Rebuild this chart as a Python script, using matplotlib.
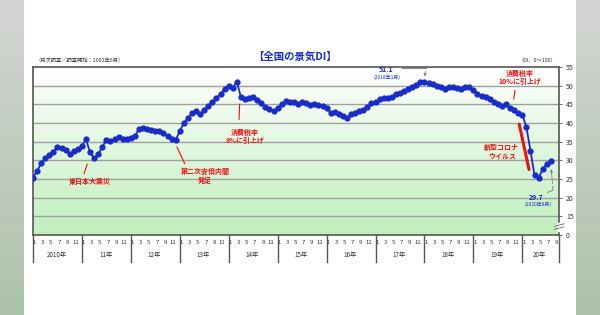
import numpy as np
import matplotlib
matplotlib.use("Agg")
import matplotlib.pyplot as plt
from matplotlib.colors import LinearSegmentedColormap

plt.rcParams['font.family'] = ['Noto Sans CJK JP', 'DejaVu Sans']

# monthly DI, 2010/1 - 2020/8
di_2010 = [25.4, 27.1, 29.2, 30.5, 31.3, 32.2, 33.7, 33.3, 32.8, 31.6, 32.5, 33.1]
di_2011 = [33.9, 35.6, 32.1, 30.5, 31.6, 33.6, 35.5, 35.3, 35.6, 36.3, 35.8, 35.8]
di_2012 = [36.0, 36.6, 38.3, 38.7, 38.4, 38.0, 37.9, 37.9, 37.3, 36.4, 35.6, 35.4]
di_2013 = [37.9, 40.0, 41.3, 42.6, 43.2, 42.3, 43.5, 44.6, 45.7, 46.8, 47.7, 49.2]
di_2014 = [49.9, 49.5, 51.0, 46.9, 46.4, 46.6, 47.0, 46.2, 45.3, 44.4, 43.8, 43.2]
di_2015 = [43.9, 45.0, 45.9, 45.7, 45.6, 45.1, 45.6, 45.3, 44.8, 45.0, 44.7, 44.6]
di_2016 = [43.9, 42.8, 42.9, 42.3, 41.9, 41.3, 42.3, 42.6, 43.1, 43.5, 44.2, 45.3]
di_2017 = [45.7, 46.3, 46.8, 46.8, 47.0, 47.7, 48.1, 48.6, 49.0, 49.7, 50.3, 51.0]
di_2018 = [51.1, 50.6, 50.4, 50.0, 49.6, 49.2, 49.6, 49.7, 49.4, 49.1, 49.6, 49.6]
di_2019 = [48.8, 47.9, 47.2, 46.9, 46.4, 45.7, 45.0, 44.6, 45.1, 44.0, 43.5, 42.6]
di_2020 = [42.2, 38.9, 32.6, 26.0, 25.2, 27.7, 29.0, 29.7]

di = di_2010 + di_2011 + di_2012 + di_2013 + di_2014 + di_2015 + di_2016 + di_2017 + di_2018 + di_2019 + di_2020
months = np.arange(len(di))

year_labels = ["2010年", "11年", "12年", "13年", "14年", "15年", "16年", "17年", "18年", "19年", "20年"]
month_ticks = [1, 3, 5, 7, 9, 11]
y_ticks = [15, 20, 25, 30, 35, 40, 45, 50, 55]

blue = "#1a2cc8"
red = "#f01010"

fig = plt.figure(figsize=(6, 3.15), dpi=100)
fig.patch.set_facecolor("white")

# gray side strips
strip = LinearSegmentedColormap.from_list("strip", ["#d3d5d3", "#aec3aa"])
for x0 in (0, 576 / 600):
    sa = fig.add_axes([x0, 0, 24 / 600, 1])
    sa.imshow(np.linspace(0, 1, 100).reshape(-1, 1), cmap=strip, aspect="auto")
    sa.axis("off")

ax = fig.add_axes([33 / 600, 80 / 315, 526 / 600, 168 / 315])
ax.set_xlim(0, 129)
ax.set_ylim(10, 55)

# green gradient background
bg = LinearSegmentedColormap.from_list("bg", ["#ffffff", "#c0efbc"])
ax.imshow(np.linspace(0, 1, 100).reshape(-1, 1), cmap=bg, aspect="auto",
          extent=[0, 129, 10, 55], zorder=0)
for v in y_ticks[:-1]:
    ax.axhline(v, color="#a0a0a0", lw=1.0, zorder=1)

ax.plot(months, di, color=blue, lw=1.3, marker="o", ms=3.5, zorder=3)

for s in ax.spines.values():
    s.set_color("#555555")
    s.set_linewidth(1.2)

ax.set_xticks([])
ax.yaxis.tick_right()
ax.set_yticks([10] + y_ticks)
ax.set_yticklabels(["0"] + [str(v) for v in y_ticks], fontsize=5, color="#333333")
ax.tick_params(axis="y", length=2, width=0.6, pad=3, colors="#555555")
ax.tick_params(axis="y", labelcolor="#333333")

# axis break mark
ax.plot([129, 129], [11.3, 13.0], color="white", lw=2.5, clip_on=False, zorder=5)
ax.plot([127.8, 130.2], [11.5, 12.2], color="#666666", lw=0.6, clip_on=False, zorder=6)
ax.plot([127.8, 130.2], [12.3, 13.0], color="#666666", lw=0.6, clip_on=False, zorder=6)

# month / year labels under the axis
trans = ax.get_xaxis_transform()
for k, yl in enumerate(year_labels):
    start = k * 12
    ax.plot([start, start], [0, -0.16], color="#555555", lw=1.0, transform=trans, clip_on=False)
    for m in month_ticks:
        if start + m - 1 < 129:
            ax.text(start + m - 0.6, -0.045, str(m), transform=trans, fontsize=4.3,
                    ha="center", va="center", color="#333333")
    nmon = min(12, 129 - start)
    ax.text(start + (nmon - 1) / 2 + 0.3, -0.12, yl, transform=trans, fontsize=4.5,
            ha="center", va="center", color="#333333")
ax.plot([129, 129], [0, -0.16], color="#555555", lw=1.0, transform=trans, clip_on=False)

# titles
fig.text(295 / 600, 1 - 57 / 315, "【全国の景気DI】", fontsize=7.5, fontweight="bold",
         color=blue, ha="center", va="center")
fig.text(35 / 600, 1 - 61 / 315, "（月次調査／調査開始：2002年5月）", fontsize=3.8,
         color="#333333", ha="left", va="center")
fig.text(556 / 600, 1 - 61 / 315, "（DI、0～100）", fontsize=3.8,
         color="#333333", ha="right", va="center")

# red event notes
ax.text(14.0, 24.4, "東日本大震災", fontsize=5, fontweight="bold", color=red, ha="center", va="center")
ax.annotate("", xy=(13.5, 29.7), xytext=(12.3, 25.7),
            arrowprops=dict(arrowstyle="-", color=red, lw=0.8))
ax.text(42.2, 25.9, "第二次安倍内閣\n発足", fontsize=5, fontweight="bold", color=red,
        ha="center", va="center", linespacing=1.2)
ax.annotate("", xy=(35.0, 34.3), xytext=(37.5, 28.4),
            arrowprops=dict(arrowstyle="-", color=red, lw=0.8))
ax.text(52.0, 36.3, "消費税率\n8%に引上げ", fontsize=5, fontweight="bold", color=red,
        ha="center", va="center", linespacing=1.2)
ax.annotate("", xy=(50.7, 45.8), xytext=(50.5, 40.2),
            arrowprops=dict(arrowstyle="-", color=red, lw=0.8))
ax.text(119.4, 52.3, "消費税率\n10%に引上げ", fontsize=5, fontweight="bold", color=red,
        ha="center", va="center", linespacing=1.2)
ax.annotate("", xy=(117.8, 45.6), xytext=(118.3, 49.5),
            arrowprops=dict(arrowstyle="-", color=red, lw=0.8))
ax.text(115.0, 32.3, "新型コロナ\nウイルス", fontsize=5, fontweight="bold", color=red,
        ha="center", va="center", linespacing=1.2)
ax.annotate("", xy=(121.8, 26.8), xytext=(119.1, 40.4),
            arrowprops=dict(arrowstyle="-", color=red, lw=2.2))

# blue value notes
peak_i = int(np.argmax(di))
ax.text(86.5, 54.2, "51.1", fontsize=5, fontweight="bold", color=blue, ha="center", va="center")
ax.text(86.8, 52.3, "(2018年1月)", fontsize=3.5, color=blue, ha="center", va="center")
ax.plot([90.4, 96.3], [54.6, 54.6], color="#888888", lw=0.8)
ax.annotate("", xy=(months[peak_i], di[peak_i] + 0.6), xytext=(96.3, 54.6),
            arrowprops=dict(arrowstyle="-|>", color="#888888", lw=0.6, mutation_scale=4))

last = len(di) - 1
ax.text(123.3, 20.1, "29.7", fontsize=5, fontweight="bold", color=blue, ha="center", va="center")
ax.text(123.8, 18.2, "(2020年8月)", fontsize=3.5, color=blue, ha="center", va="center")
ax.plot([126.2, 127.5, 127.5], [21.4, 22.0, 23.0], color="#888888", lw=0.7)
ax.annotate("", xy=(months[last], di[last] - 1.3), xytext=(127.5, 23.0),
            arrowprops=dict(arrowstyle="-|>", color="#888888", lw=0.6, mutation_scale=4))

fig.savefig("out.png", dpi=100)
